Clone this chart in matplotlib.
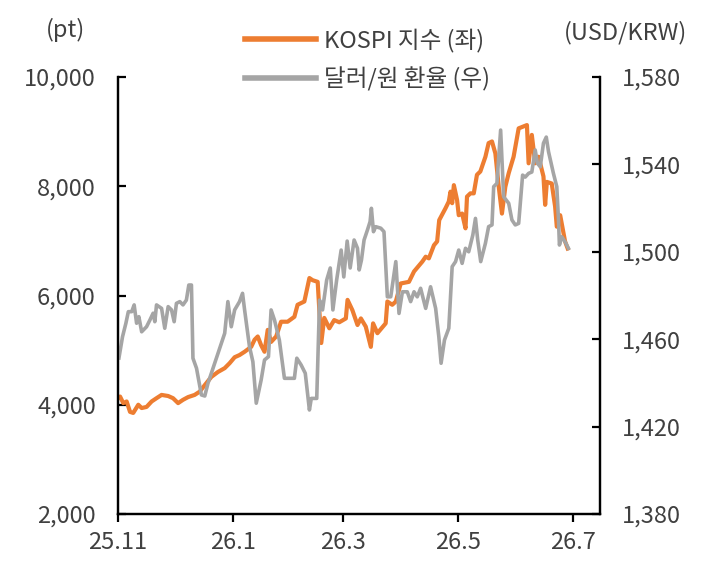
import matplotlib
matplotlib.use('Agg')
import matplotlib.pyplot as plt
from matplotlib.lines import Line2D
from matplotlib.ticker import FuncFormatter

plt.rcParams['font.family'] = ['Noto Sans CJK KR', 'DejaVu Sans']

# ---- data (days since 2025-11-01) ----
kospi_days = [0.5, 1.1, 2.8, 4.6, 6.4, 8.1, 10.8, 12.6, 15.2, 17.9,
              20.5, 23.2, 26.7, 29.3, 32.0, 34.6, 37.3, 40.8, 43.5, 46.2,
              49.7, 53.2, 56.8, 59.4, 62.1, 64.7, 67.4, 70.9, 72.7, 74.4,
              76.2, 78.0, 79.7, 81.5, 84.2, 86.8, 90.3, 93.9, 95.6, 99.2,
              101.9, 103.6, 106.3, 108.2, 109.8, 112.5, 115.1, 117.8, 121.3, 122.2,
              124.8, 127.5, 129.3, 131.9, 134.6, 135.8, 138.1, 142.5, 143.4, 146.0,
              147.9, 150.5, 154.9, 157.6, 162.0, 163.8, 165.5, 168.2, 169.9, 171.0,
              174.4, 176.1, 177.0, 177.9, 178.8, 180.5, 181.4, 183.2, 185.0, 185.8,
              187.6, 189.4, 191.1, 192.9, 195.6, 197.3, 199.1, 200.9, 202.7, 204.4,
              206.2, 208.0, 210.6, 213.3, 217.7, 218.6, 220.3, 222.1, 223.9, 226.5,
              227.4, 228.3, 230.9, 232.7, 233.6, 235.4, 238.0, 239.4]
kospi_vals = [4140, 4150, 4030, 4060, 3870, 3850, 4000, 3940, 3960, 4060,
              4120, 4180, 4160, 4120, 4030, 4090, 4140, 4180, 4240, 4360,
              4510, 4600, 4670, 4760, 4870, 4910, 4970, 5060, 5190, 5250,
              5090, 4970, 5370, 5150, 5250, 5520, 5520, 5610, 5830, 5890,
              6320, 6280, 6250, 5130, 5590, 5400, 5550, 5510, 5580, 5920,
              5730, 5460, 5580, 5430, 5060, 5490, 5310, 5490, 5890, 5830,
              5890, 6220, 6250, 6440, 6620, 6710, 6680, 6920, 6990, 7380,
              7600, 7720, 7900, 7690, 8020, 7750, 7470, 7500, 7230, 7810,
              7870, 7870, 8210, 8270, 8540, 8790, 8820, 8600, 7990, 7500,
              7990, 8240, 8540, 9060, 9120, 8420, 8940, 8420, 8540, 8180,
              7660, 8080, 8050, 7630, 7260, 7470, 6990, 6860]

fx_days = [0.5, 2.4, 4.2, 5.5, 7.3, 8.6, 9.9, 11.1, 12.6, 15.2,
           17.0, 18.7, 19.6, 20.5, 23.2, 24.9, 26.7, 28.5, 29.9, 31.1,
           32.9, 34.6, 36.4, 37.7, 39.1, 39.9, 41.8, 44.4, 46.2, 47.9,
           51.5, 55.0, 56.8, 58.5, 60.3, 62.1, 64.7, 66.3, 67.4, 70.0,
           71.8, 73.6, 76.2, 78.0, 80.1, 81.5, 83.3, 85.9, 88.6, 93.9,
           95.2, 97.5, 99.7, 101.9, 102.9, 105.8, 107.3, 108.9, 111.1, 113.0,
           114.4, 116.4, 118.8, 120.2, 122.0, 123.6, 125.7, 127.5, 128.4, 129.6,
           131.0, 132.8, 134.2, 134.9, 136.0, 137.2, 139.9, 141.6, 143.4, 145.2,
           147.9, 149.6, 151.4, 154.0, 155.8, 157.6, 159.3, 161.1, 163.8, 166.4,
           169.1, 170.8, 172.0, 173.8, 176.1, 177.9, 179.7, 181.4, 183.2, 185.0,
           186.7, 188.9, 190.3, 191.5, 193.1, 195.6, 197.3, 199.1, 200.0, 201.7,
           203.7, 205.3, 208.0, 209.7, 211.5, 213.3, 215.4, 216.8, 218.6, 220.3,
           222.1, 223.3, 224.8, 226.5, 228.0, 229.2, 231.8, 233.6, 234.5, 235.0,
           236.2, 238.0, 239.8]
fx_vals = [1451.4, 1461.1, 1467.3, 1472.6, 1472.6, 1475.7, 1467.3, 1470.3, 1463.4, 1465.7,
           1468.8, 1471.9, 1468.0, 1475.7, 1474.1, 1465.0, 1474.9, 1473.4, 1468.0, 1476.4,
           1477.2, 1475.7, 1477.9, 1484.8, 1484.8, 1451.3, 1446.7, 1434.5, 1434.0, 1439.8,
           1449.0, 1458.1, 1462.7, 1477.2, 1465.7, 1473.4, 1477.2, 1481.0, 1473.4, 1456.6,
           1449.7, 1430.7, 1441.3, 1450.5, 1452.0, 1473.4, 1468.8, 1459.6, 1442.1, 1442.1,
           1451.3, 1448.2, 1444.4, 1427.6, 1432.9, 1432.9, 1477.9, 1473.4, 1487.1, 1492.6,
           1473.4, 1487.1, 1500.8, 1488.5, 1504.9, 1492.6, 1505.4, 1501.6, 1491.7, 1496.2,
           1505.4, 1510.0, 1513.8, 1519.9, 1509.2, 1511.5, 1510.8, 1509.2, 1479.4, 1479.4,
           1495.5, 1471.8, 1481.7, 1481.7, 1477.2, 1481.7, 1479.4, 1483.3, 1474.1, 1484.0,
           1474.1, 1461.1, 1449.0, 1459.6, 1465.0, 1493.2, 1495.5, 1500.8, 1494.7, 1501.6,
           1500.0, 1507.7, 1515.3, 1505.4, 1495.5, 1503.9, 1511.5, 1512.3, 1529.8, 1531.3,
           1555.7, 1525.2, 1522.2, 1514.6, 1512.3, 1513.0, 1535.1, 1534.2, 1535.9, 1536.5,
           1546.6, 1540.5, 1538.9, 1549.7, 1552.5, 1545.8, 1535.9, 1529.8, 1514.6, 1503.1,
           1506.9, 1504.6, 1501.6]

x_tick_days = [0, 61, 120, 181, 242]
x_tick_labels = ['25.11', '26.1', '26.3', '26.5', '26.7']
left_ticks = [2000, 4000, 6000, 8000, 10000]
right_ticks = [1380, 1420, 1460, 1500, 1540, 1580]
series_names = ['KOSPI 지수 (좌)', '달러/원 환율 (우)']

ORANGE = '#ED7D31'
GRAY = '#A5A5A5'
TXT = '#404040'
FS = 17

fig = plt.figure(figsize=(7.08, 5.69), dpi=100)
ax = fig.add_axes([118/708, 1-514/569, (600-118)/708, 437/569])
ax2 = ax.twinx()

ax.plot(kospi_days, kospi_vals, color=ORANGE, lw=3.0, solid_joinstyle='round')
ax2.plot(fx_days, fx_vals, color=GRAY, lw=2.6, solid_joinstyle='round')

ax.set_xlim(0, 256.6)
ax.set_ylim(2000, 10000)
ax2.set_ylim(1380, 1580)
ax.set_xticks(x_tick_days)
ax.set_xticklabels(x_tick_labels)
ax.set_yticks(left_ticks)
ax2.set_yticks(right_ticks)
ax.yaxis.set_major_formatter(FuncFormatter(lambda v, p: f'{int(v):,}'))
ax2.yaxis.set_major_formatter(FuncFormatter(lambda v, p: f'{int(v):,}'))

for a in (ax, ax2):
    a.spines['top'].set_visible(False)
    for s in ('left', 'right', 'bottom'):
        a.spines[s].set_linewidth(1.6)
        a.spines[s].set_color('black')

ax.tick_params(axis='y', direction='in', length=6, width=1.6, pad=16,
               labelsize=FS, labelcolor=TXT)
ax2.tick_params(axis='y', direction='in', length=6, width=1.6, pad=16,
                labelsize=FS, labelcolor=TXT)
ax.tick_params(axis='x', direction='out', length=6, width=1.6, pad=6,
               labelsize=FS, labelcolor=TXT)

fig.text(65/708, 1-30/569, '(pt)', ha='center', va='center', fontsize=FS, color=TXT)
fig.text(626/708, 1-33/569, '(USD/KRW)', ha='center', va='center', fontsize=FS, color=TXT)

handles = [Line2D([], [], color=ORANGE, lw=4), Line2D([], [], color=GRAY, lw=4)]
fig.legend(handles, series_names, loc='upper left', bbox_to_anchor=(245/708, 1-28/569),
           frameon=False, fontsize=FS, handlelength=3.0, handletextpad=0.35,
           labelspacing=0.62, borderpad=0, borderaxespad=0, labelcolor=TXT)

fig.savefig('out.png', dpi=100)
